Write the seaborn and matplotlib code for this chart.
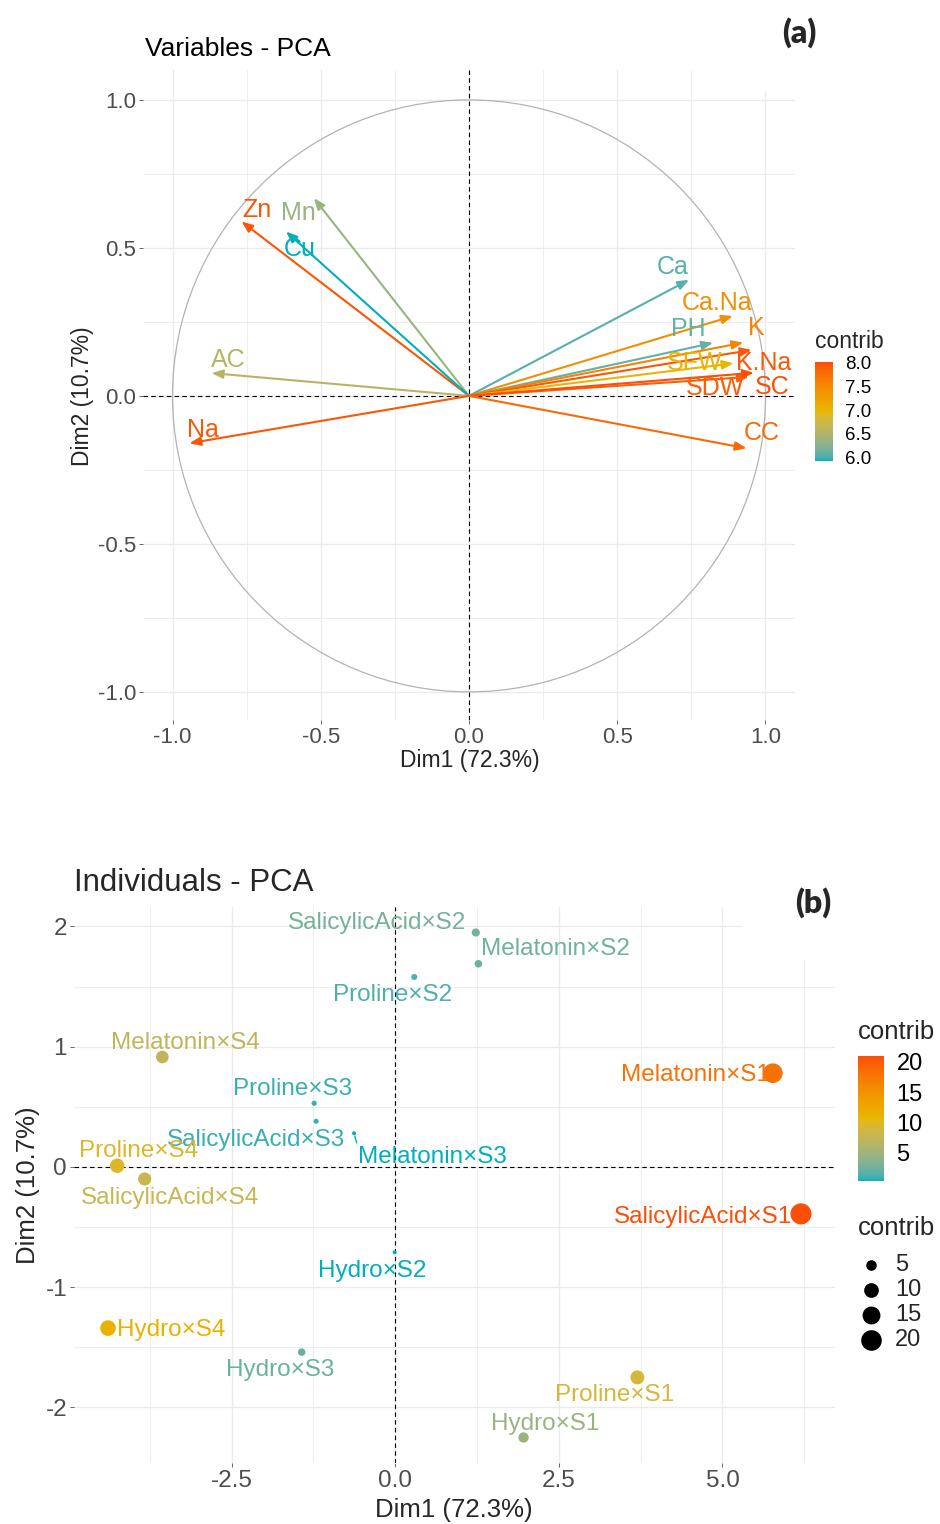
import numpy as np
import pandas as pd
import matplotlib
matplotlib.use("Agg")
import matplotlib.pyplot as plt
import seaborn as sns
from matplotlib.colors import ListedColormap, Normalize, to_rgb
from matplotlib.patches import Circle, Rectangle
from matplotlib.cm import ScalarMappable

# ---------------- data ----------------
var_names = ["Zn", "Mn", "Cu", "AC", "Na", "Ca", "Ca.Na", "PH", "K", "K.Na",
             "SFW", "SDW", "SC", "CC"]
var_dim1 = [-0.767, -0.523, -0.617, -0.868, -0.943, 0.742, 0.890, 0.823, 0.925,
            0.953, 0.892, 0.944, 0.961, 0.936]
var_dim2 = [0.589, 0.668, 0.555, 0.077, -0.160, 0.392, 0.270, 0.179, 0.180,
            0.155, 0.110, 0.064, 0.078, -0.177]
var_contrib = [7.97, 6.35, 5.92, 6.55, 7.95, 6.05, 7.45, 6.10, 7.55, 7.95,
               7.00, 7.90, 8.02, 7.80]

ind_names = ["SalicylicAcid×S2", "Melatonin×S2", "Proline×S2", "Melatonin×S4",
             "Melatonin×S1", "Proline×S3", "SalicylicAcid×S3", "Melatonin×S3",
             "Proline×S4", "SalicylicAcid×S4", "SalicylicAcid×S1", "Hydro×S2",
             "Hydro×S4", "Hydro×S3", "Proline×S1", "Hydro×S1"]
ind_dim1 = [1.23, 1.27, 0.29, -3.56, 5.77, -1.24, -1.21, -0.63, -4.25, -3.83,
            6.20, -0.01, -4.39, -1.43, 3.70, 1.96]
ind_dim2 = [1.95, 1.69, 1.58, 0.915, 0.78, 0.53, 0.38, 0.28, 0.01, -0.10,
            -0.39, -0.71, -1.34, -1.54, -1.75, -2.25]
ind_contrib = [2.86, 2.40, 1.39, 7.27, 18.2, 0.98, 0.87, 0.40, 9.71, 7.90,
               20.94, 0.38, 11.33, 2.37, 9.01, 4.79]

size_legend_values = [5, 10, 15, 20]
gradient_colors = ["#00AFBB", "#E7B800", "#FC4E07"]

# ---------------- layout (label offsets in pixels: right, down) ----------------
var_label_offsets = {
    "Zn": (15, -12), "Mn": (-16, 15), "Cu": (14, 17), "AC": (17, -13),
    "Na": (14, -13), "Ca": (-16, -13), "Ca.Na": (-16, -13), "PH": (-25, -14),
    "K": (13, -15), "K.Na": (12, 13), "SFW": (-39, 0), "SDW": (-34, 11),
    "SC": (18, 14), "CC": (15, -15),
}
ind_label_offsets = {
    "SalicylicAcid×S2": (-99, -9), "Melatonin×S2": (77, -15),
    "Proline×S2": (-22, 18), "Melatonin×S4": (23, -14),
    "Melatonin×S1": (-77, 2), "Proline×S3": (-22, -14),
    "SalicylicAcid×S3": (-60, 19), "Melatonin×S3": (78, 24),
    "Proline×S4": (21, -15), "SalicylicAcid×S4": (25, 19),
    "SalicylicAcid×S1": (-98, 3), "Hydro×S2": (-22, 19),
    "Hydro×S4": (63, 2), "Hydro×S3": (-22, 18),
    "Proline×S1": (-23, 18), "Hydro×S1": (22, -14),
}

sns.set_theme(style="white")
plt.rcParams['font.family'] = ['Liberation Sans', 'DejaVu Sans']
plt.rcParams['axes.unicode_minus'] = False

W, H = 940, 1524
PX = 0.72  # points per pixel at dpi 100
fig = plt.figure(figsize=(W / 100, H / 100), dpi=100)
fig.patch.set_facecolor("white")


def rect(l, t, r, b):
    return [l / W, 1 - b / H, (r - l) / W, (b - t) / H]


# ----- colour ramp interpolated in CIELAB (like ggplot2 gradientn) -----
_M = np.array([[0.4124564, 0.3575761, 0.1804375],
               [0.2126729, 0.7151522, 0.0721750],
               [0.0193339, 0.1191920, 0.9503041]])
_WHITE = np.array([0.95047, 1.0, 1.08883])
_D = 6 / 29


def srgb_to_lab(rgb):
    c = np.asarray(rgb, float)
    lin = np.where(c <= 0.04045, c / 12.92, ((c + 0.055) / 1.055) ** 2.4)
    xyz = _M @ lin / _WHITE
    f = np.where(xyz > _D ** 3, np.cbrt(xyz), xyz / (3 * _D ** 2) + 4 / 29)
    return np.array([116 * f[1] - 16, 500 * (f[0] - f[1]), 200 * (f[1] - f[2])])


def lab_to_srgb(lab):
    L, a, b = lab
    fy = (L + 16) / 116
    fx = fy + a / 500
    fz = fy - b / 200
    f = np.array([fx, fy, fz])
    xyz = np.where(f > _D, f ** 3, 3 * _D ** 2 * (f - 4 / 29)) * _WHITE
    lin = np.linalg.solve(_M, xyz)
    lin = np.clip(lin, 0, 1)
    c = np.where(lin <= 0.0031308, 12.92 * lin, 1.055 * lin ** (1 / 2.4) - 0.055)
    return np.clip(c, 0, 1)


labs = [srgb_to_lab(to_rgb(c)) for c in gradient_colors]
ramp = []
N = 256
for t in np.linspace(0, 1, N):
    seg = min(int(t * (len(labs) - 1)), len(labs) - 2)
    u = t * (len(labs) - 1) - seg
    ramp.append(lab_to_srgb(labs[seg] * (1 - u) + labs[seg + 1] * u))
cmap = ListedColormap(ramp, name="fx_lab")

GRID = "#EBEBEB"
TICKC = "#4D4D4D"


def style_axes(ax, xmaj, xlab, xmin, ymaj, ylab, ymin, fs):
    ax.set_xticks(xmaj)
    ax.set_xticklabels(xlab)
    ax.set_xticks(xmin, minor=True)
    ax.set_yticks(ymaj)
    ax.set_yticklabels(ylab)
    ax.set_yticks(ymin, minor=True)
    ax.grid(True, which='major', color=GRID, lw=1.0)
    ax.grid(True, which='minor', color=GRID, lw=0.6)
    for s in ax.spines.values():
        s.set_visible(False)
    ax.tick_params(which='major', length=3, width=0.6, color=TICKC,
                   labelcolor=TICKC, labelsize=fs, pad=2, bottom=True, left=True)
    ax.tick_params(which='minor', length=0)
    ax.set_axisbelow(True)
    ax.set_facecolor("white")


# ================= Panel (a) =================
axA = fig.add_axes(rect(143, 70, 795, 720))
axA.set_xlim(-1.0995, 1.0995)
axA.set_ylim(-1.095, 1.101)
style_axes(axA, [-1, -0.5, 0, 0.5, 1], ["-1.0", "-0.5", "0.0", "0.5", "1.0"],
           [-0.75, -0.25, 0.25, 0.75],
           [-1, -0.5, 0, 0.5, 1], ["-1.0", "-0.5", "0.0", "0.5", "1.0"],
           [-0.75, -0.25, 0.25, 0.75], 16)
axA.add_patch(Circle((0, 0), 1, fill=False, ec="#B3B3B3", lw=0.9, zorder=1.5))
axA.axhline(0, color="black", lw=0.8, ls=(0, (4, 3)), zorder=1.6)
axA.axvline(0, color="black", lw=0.8, ls=(0, (4, 3)), zorder=1.6)

normA = Normalize(min(var_contrib), max(var_contrib))
df_var = pd.DataFrame({"name": var_names, "Dim1": var_dim1, "Dim2": var_dim2,
                       "contrib": var_contrib})
for _, r in df_var.iterrows():
    c = cmap(normA(r.contrib))
    axA.annotate("", xy=(r.Dim1, r.Dim2), xytext=(0, 0),
                 arrowprops=dict(arrowstyle="-|>,head_length=0.55,head_width=0.22",
                                 color=c, lw=1.5, shrinkA=0, shrinkB=0,
                                 mutation_scale=12),
                 zorder=3)
for _, r in df_var.iterrows():
    c = cmap(normA(r.contrib))
    dx, dy = var_label_offsets[r["name"]]
    axA.annotate(r["name"], xy=(r.Dim1, r.Dim2), xytext=(dx * PX, -dy * PX),
                 textcoords="offset points", ha="center", va="center",
                 color=c, fontsize=18, zorder=4)

axA.set_xlabel("")
axA.set_ylabel("")
fig.text(145 / W, 1 - 49 / H, "Variables - PCA", fontsize=19, ha="left",
         va="center", color="black")
fig.text(470 / W, 1 - 760 / H, "Dim1 (72.3%)", fontsize=16.5, ha="center",
         va="center")
fig.text(83 / W, 1 - 396 / H, "Dim2 (10.7%)", fontsize=16.5, ha="center",
         va="center", rotation=90)

# colorbar (a)
caxA = fig.add_axes(rect(815, 362, 833, 461))
cbA = fig.colorbar(ScalarMappable(norm=normA, cmap=cmap), cax=caxA)
cbA.outline.set_visible(False)
cbA.set_ticks([6.0, 6.5, 7.0, 7.5, 8.0])
cbA.set_ticklabels(["6.0", "6.5", "7.0", "7.5", "8.0"])
caxA.tick_params(axis='y', which='both', direction='in', left=True, right=True,
                 labelleft=False, labelright=True, color='white', length=4,
                 width=1, labelsize=13.5, pad=9, labelcolor='black')
fig.text(815 / W, 1 - 342 / H, "contrib", fontsize=16.5, ha="left", va="center")

# ================= Panel (b) =================
axB = fig.add_axes(rect(74, 907, 835, 1463))
axB.set_xlim(-4.91, 6.72)
axB.set_ylim(-2.462, 2.162)
style_axes(axB, [-2.5, 0, 2.5, 5.0], ["-2.5", "0.0", "2.5", "5.0"],
           [-3.75, -1.25, 1.25, 3.75, 6.25],
           [-2, -1, 0, 1, 2], ["-2", "-1", "0", "1", "2"],
           [-1.5, -0.5, 0.5, 1.5], 17.5)
axB.axhline(0, color="black", lw=0.8, ls=(0, (4, 3)), zorder=1.6)
axB.axvline(0, color="black", lw=0.8, ls=(0, (4, 3)), zorder=1.6)

normB = Normalize(min(ind_contrib), max(ind_contrib))
SIZES = (8, 230)
df_ind = pd.DataFrame({"name": ind_names, "Dim1": ind_dim1, "Dim2": ind_dim2,
                       "contrib": ind_contrib})
sns.scatterplot(data=df_ind, x="Dim1", y="Dim2", hue="contrib", size="contrib",
                palette=cmap, hue_norm=normB, sizes=SIZES, size_norm=normB,
                legend=False, linewidth=0, ax=axB, zorder=3)
for _, r in df_ind.iterrows():
    c = cmap(normB(r.contrib))
    dx, dy = ind_label_offsets[r["name"]]
    kw = {}
    if r["name"] == "Melatonin×S3":
        kw["arrowprops"] = dict(arrowstyle="-", color=c, lw=1.0, shrinkA=0,
                                shrinkB=2, relpos=(0.0, 1.0))
    axB.annotate(r["name"], xy=(r.Dim1, r.Dim2), xytext=(dx * PX, -dy * PX),
                 textcoords="offset points", ha="center", va="center",
                 color=c, fontsize=17.5, zorder=4, **kw)
axB.set_xlabel("")
axB.set_ylabel("")
fig.text(74 / W, 1 - 883 / H, "Individuals - PCA", fontsize=22.5, ha="left",
         va="center")
fig.text(454 / W, 1 - 1510 / H, "Dim1 (72.3%)", fontsize=18.5, ha="center",
         va="center")
fig.text(28 / W, 1 - 1185 / H, "Dim2 (10.7%)", fontsize=18.5, ha="center",
         va="center", rotation=90)

# colorbar (b)
caxB = fig.add_axes(rect(858, 1056, 884, 1181))
cbB = fig.colorbar(ScalarMappable(norm=normB, cmap=cmap), cax=caxB)
cbB.outline.set_visible(False)
cbB.set_ticks([5, 10, 15, 20])
caxB.tick_params(axis='y', which='both', direction='in', left=True, right=True,
                 labelleft=False, labelright=True, color='white', length=5,
                 width=1, labelsize=17, pad=9, labelcolor='black')
fig.text(858 / W, 1 - 1032 / H, "contrib", fontsize=18.5, ha="left", va="center")

# ================= overlay: boxes, panel tags, size legend =================
lax = fig.add_axes([0, 0, 1, 1])
lax.set_xlim(0, W)
lax.set_ylim(H, 0)
lax.axis("off")
lax.patch.set_alpha(0)
lax.add_patch(Rectangle((700, 0), 240, 90, color="white", zorder=1))
lax.add_patch(Rectangle((742, 860), 198, 98, color="white", zorder=1))
lax.text(799, 33, "(a)", fontsize=23, fontweight="heavy", ha="center",
         va="center", family=["Lato", "DejaVu Sans"], zorder=2)
lax.text(813, 903, "(b)", fontsize=23, fontweight="heavy", ha="center",
         va="center", family=["Lato", "DejaVu Sans"], zorder=2)

lax.text(858, 1228, "contrib", fontsize=18.5, ha="left", va="center")
lo, hi = normB.vmin, normB.vmax
for i, v in enumerate(size_legend_values):
    yy = 1265 + 25 * i
    area = SIZES[0] + (SIZES[1] - SIZES[0]) * (v - lo) / (hi - lo)
    lax.scatter([871], [yy], s=area, color="black", linewidth=0, zorder=2)
    lax.text(895, yy, str(v), fontsize=17, ha="left", va="center")

fig.savefig("out.png", dpi=100, facecolor="white")
